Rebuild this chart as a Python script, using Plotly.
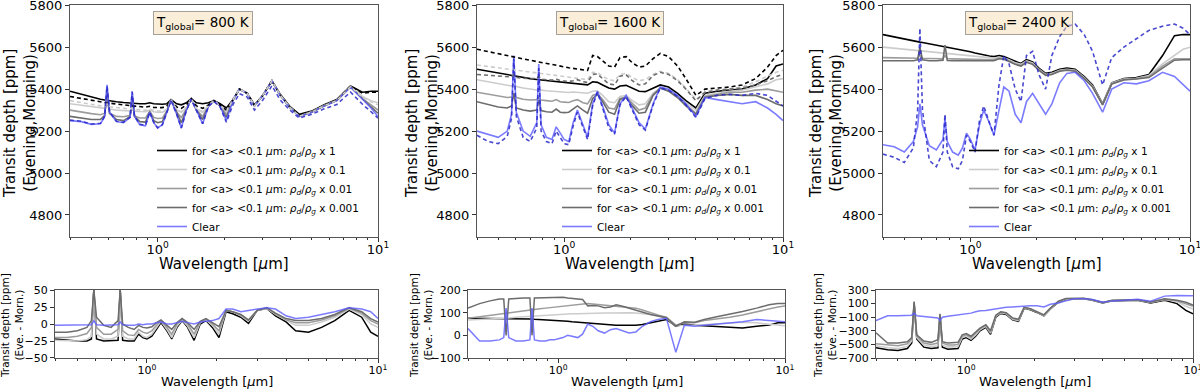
import math
import plotly.graph_objects as go

# wavelength grid (micron) shared by every series
WL = [0.40, 0.45, 0.50, 0.55, 0.575, 0.589, 0.605, 0.65, 0.70, 0.75, 0.766, 0.785, 0.83, 0.88, 0.92, 0.96,
      1.0, 1.05, 1.1, 1.15, 1.22, 1.28, 1.35, 1.42, 1.5, 1.6, 1.7, 1.8, 1.92, 2.05, 2.2, 2.35, 2.55, 2.75,
      3.0, 3.3, 3.6, 4.0, 4.4, 5.0, 5.7, 6.5, 7.5, 8.5, 9.3, 10.0]

# ---- T = 800 K, transit depth [ppm], evening (solid) ----
P1_X1 = [5390,5375,5362,5352,5348,5346,5345,5340,5336,5333,5333,5332,5330,5330,5335,5330,5328,5328,5330,5350,5330,5325,5335,5355,5335,5330,5335,5345,5330,5310,5350,5400,5380,5325,5370,5440,5375,5315,5280,5295,5325,5350,5415,5385,5390,5390]
P1_X01 = [5330,5322,5315,5310,5308,5330,5305,5300,5298,5296,5300,5295,5293,5292,5300,5292,5290,5290,5300,5350,5300,5290,5310,5355,5305,5290,5320,5345,5320,5295,5350,5400,5380,5320,5370,5440,5372,5312,5272,5292,5322,5347,5412,5365,5345,5335]
P1_X001 = [5300,5290,5283,5278,5285,5360,5285,5270,5268,5275,5340,5272,5262,5262,5295,5265,5260,5262,5295,5350,5290,5265,5305,5355,5300,5270,5320,5345,5320,5280,5350,5400,5380,5320,5370,5440,5371,5311,5271,5291,5321,5346,5411,5355,5325,5300]
P1_X0001 = [5270,5262,5255,5255,5275,5400,5285,5255,5250,5270,5370,5270,5245,5243,5292,5250,5240,5245,5292,5350,5285,5240,5302,5355,5300,5255,5320,5345,5320,5265,5350,5400,5380,5320,5370,5440,5370,5310,5270,5290,5320,5345,5410,5352,5315,5285]
P1_CLEAR = [5250,5245,5232,5235,5270,5420,5290,5245,5240,5265,5390,5270,5230,5225,5290,5240,5215,5230,5290,5350,5280,5215,5300,5355,5300,5235,5320,5345,5320,5250,5350,5400,5380,5320,5370,5440,5370,5310,5270,5290,5320,5345,5410,5350,5310,5270]
# morning (dashed)
P1_X1_M = [5365,5355,5345,5338,5335,5334,5333,5328,5324,5320,5320,5319,5316,5314,5318,5313,5312,5312,5318,5348,5315,5308,5325,5355,5320,5308,5325,5345,5325,5300,5350,5400,5380,5322,5370,5440,5372,5312,5275,5292,5322,5348,5415,5380,5385,5385]
P1_X01_M = [5345,5335,5327,5320,5318,5330,5316,5312,5308,5305,5310,5304,5301,5299,5305,5298,5296,5296,5302,5350,5302,5292,5312,5355,5306,5292,5320,5345,5320,5292,5350,5400,5380,5320,5370,5440,5371,5311,5271,5291,5321,5346,5412,5362,5340,5325]
P1_CLEAR_M = [5252,5247,5234,5237,5271,5415,5291,5247,5242,5266,5387,5271,5232,5227,5290,5241,5215,5230,5288,5347,5280,5215,5298,5351,5298,5235,5317,5341,5315,5242,5328,5378,5362,5300,5348,5416,5348,5298,5262,5280,5306,5327,5386,5328,5292,5262]
# evening - morning [ppm]
P1_D_X1 = [-22,-24,-25,-25,-22,50,-22,-25,-25,-24,50,-24,-25,-25,-15,-20,-22,-18,-8,2,-10,-22,-5,5,-5,-24,0,5,-5,-20,18,15,10,1,20,23,12,3,-10,-12,-5,5,20,10,-12,-18]
P1_D_X01 = [-24,-25,-25,-23,-18,45,-15,-22,-22,-18,40,-18,-22,-22,-12,-18,-20,-15,-5,4,-8,-20,-3,6,-3,-20,2,6,-2,-15,20,18,12,4,20,23,14,5,-2,-2,3,10,22,14,0,-5]
P1_D_X001 = [-20,-20,-18,-14,-5,50,-5,-15,-15,-8,50,-10,-16,-17,-8,-12,-14,-10,-2,5,-5,-15,0,7,0,-15,3,7,0,-10,20,18,13,5,20,23,15,6,2,2,6,12,23,16,5,0]
P1_D_X0001 = [-12,-12,-10,-5,5,50,10,-2,-5,5,50,0,-5,-8,-2,-5,-6,-4,2,6,-2,-8,2,8,2,-8,4,8,2,-4,20,18,14,6,20,24,16,8,5,5,8,14,24,18,8,3]
P1_D_CLEAR = [-2,-2,-2,-2,-1,5,-1,-2,-2,-1,3,-1,-2,-2,0,-1,0,0,2,3,0,0,2,4,2,0,3,4,5,8,22,22,18,20,22,24,22,12,8,10,14,18,24,22,18,8]

# ---- T = 1600 K ----
P2_X1 = [5495,5485,5475,5468,5465,5463,5462,5456,5450,5446,5445,5444,5440,5436,5435,5432,5430,5428,5426,5425,5422,5420,5435,5432,5420,5405,5400,5415,5418,5405,5390,5388,5405,5420,5410,5380,5345,5310,5380,5390,5395,5400,5420,5450,5510,5520]
P2_X01 = [5445,5435,5425,5418,5415,5420,5412,5405,5400,5396,5400,5395,5392,5390,5392,5388,5386,5384,5386,5385,5382,5380,5390,5392,5370,5340,5335,5365,5370,5345,5325,5330,5380,5405,5395,5365,5335,5300,5370,5380,5390,5395,5410,5425,5445,5450]
P2_X001 = [5385,5375,5368,5360,5362,5375,5360,5352,5348,5350,5360,5348,5345,5342,5350,5340,5338,5336,5345,5350,5335,5330,5370,5378,5350,5310,5305,5355,5362,5330,5300,5310,5375,5405,5392,5360,5325,5285,5365,5375,5385,5385,5395,5400,5390,5385]
P2_X0001 = [5340,5325,5315,5310,5320,5380,5310,5300,5295,5300,5350,5298,5292,5290,5305,5290,5288,5290,5305,5320,5300,5285,5355,5375,5340,5290,5280,5350,5360,5320,5285,5290,5370,5405,5390,5360,5320,5280,5360,5370,5375,5370,5370,5350,5330,5320]
P2_CLEAR = [5200,5185,5170,5200,5280,5560,5290,5200,5175,5240,5520,5230,5170,5160,5220,5190,5160,5150,5240,5300,5230,5170,5330,5390,5320,5230,5190,5330,5370,5310,5240,5210,5330,5410,5400,5370,5330,5270,5360,5350,5340,5330,5340,5310,5280,5250]
P2_X1_M = [5590,5578,5567,5558,5555,5553,5551,5544,5537,5531,5529,5527,5522,5517,5513,5509,5506,5502,5499,5496,5492,5489,5560,5555,5535,5510,5505,5550,5555,5525,5505,5510,5545,5570,5555,5510,5450,5370,5400,5405,5410,5420,5450,5505,5560,5585]
P2_X01_M = [5515,5508,5500,5494,5492,5490,5489,5484,5480,5476,5475,5474,5470,5466,5464,5461,5458,5455,5452,5450,5447,5445,5480,5478,5462,5445,5440,5470,5475,5455,5440,5445,5470,5485,5475,5445,5405,5350,5385,5395,5400,5410,5435,5460,5480,5490]
P2_X001_M = [5470,5466,5462,5458,5458,5470,5456,5452,5450,5450,5460,5448,5445,5443,5448,5440,5438,5436,5440,5445,5435,5432,5470,5472,5450,5425,5420,5462,5468,5440,5420,5425,5465,5480,5470,5440,5400,5345,5385,5395,5400,5405,5420,5440,5460,5470]
P2_CLEAR_M = [5180,5150,5140,5175,5260,5545,5270,5170,5150,5215,5500,5200,5150,5140,5200,5170,5140,5135,5225,5290,5215,5160,5320,5385,5310,5215,5185,5325,5365,5300,5230,5205,5325,5405,5395,5365,5325,5265,5355,5370,5375,5370,5380,5370,5340,5320]
P2_D_X1 = [75,75,75,75,75,75,75,74,73,72,72,71,70,68,67,66,65,63,62,60,58,56,55,53,50,48,46,45,45,44,45,48,55,62,70,40,50,45,42,40,35,32,40,45,55,55]
P2_D_X01 = [68,70,72,74,75,76,77,80,82,85,86,86,88,90,90,91,92,93,94,95,95,96,96,97,97,98,98,99,100,100,99,97,92,85,75,40,45,45,48,52,55,58,55,50,45,42]
P2_D_X001 = [75,82,90,95,98,100,100,104,108,112,113,114,117,120,122,124,126,128,130,132,135,138,140,138,136,133,130,130,128,125,120,112,100,90,80,45,55,55,65,72,80,90,105,118,125,130]
P2_D_X0001 = [120,140,152,160,160,0,160,163,165,165,0,165,166,167,167,168,170,168,165,163,160,158,130,132,130,122,125,135,128,120,110,100,92,85,78,40,60,58,70,82,92,105,120,135,140,140]
P2_D_CLEAR = [30,-25,-25,-20,-10,120,-10,-25,-25,-20,120,-20,-25,-25,-20,-20,-15,-10,0,-5,-10,5,50,40,20,10,25,30,20,10,15,40,60,70,75,-75,45,40,45,50,55,60,70,65,60,60]

# ---- T = 2400 K ----
P3_X1 = [5660,5648,5638,5630,5626,5624,5622,5616,5610,5604,5602,5600,5596,5590,5586,5582,5578,5572,5567,5563,5558,5555,5560,5555,5545,5530,5522,5540,5530,5500,5475,5480,5495,5500,5495,5460,5420,5330,5430,5450,5455,5470,5560,5655,5660,5660]
P3_X01 = [5600,5595,5590,5586,5584,5584,5582,5578,5575,5572,5572,5570,5568,5565,5563,5561,5560,5557,5555,5553,5550,5548,5552,5548,5540,5525,5518,5535,5525,5495,5470,5475,5490,5495,5490,5455,5415,5328,5428,5448,5452,5465,5520,5560,5590,5600]
P3_X001 = [5550,5549,5548,5547,5547,5560,5547,5546,5545,5545,5560,5545,5544,5543,5543,5542,5542,5541,5541,5540,5540,5540,5548,5545,5535,5520,5512,5530,5520,5492,5468,5472,5488,5492,5487,5452,5412,5326,5426,5446,5450,5460,5510,5545,5545,5545]
P3_X0001 = [5535,5535,5535,5535,5540,5600,5540,5535,5535,5538,5610,5536,5535,5535,5535,5535,5535,5535,5535,5535,5535,5535,5545,5542,5532,5518,5510,5528,5518,5490,5465,5470,5485,5490,5485,5450,5410,5325,5424,5444,5448,5455,5500,5538,5540,5540]
P3_CLEAR = [5135,5125,5100,5150,5220,5330,5230,5130,5110,5160,5260,5150,5100,5085,5120,5190,5160,5110,5230,5300,5240,5180,5300,5410,5390,5280,5240,5340,5380,5330,5280,5330,5430,5475,5480,5440,5380,5290,5400,5430,5425,5440,5480,5460,5420,5390]
P3_CLEAR_M = [5090,5075,5050,5120,5300,5690,5300,5060,5030,5100,5280,5100,5030,5020,5060,5180,5150,5100,5250,5320,5240,5180,5420,5560,5520,5400,5340,5560,5580,5470,5400,5560,5650,5700,5710,5660,5580,5420,5550,5600,5640,5680,5700,5710,5690,5660]
P3_D_X1 = [-550,-580,-590,-560,-480,100,-420,-540,-560,-550,-80,-540,-570,-570,-560,-420,-400,-440,-380,-300,-250,-350,-100,-45,-60,-140,-160,30,10,-30,-80,20,120,160,170,170,150,110,140,150,150,110,150,100,0,-50]
P3_D_X01 = [-520,-550,-560,-530,-450,110,-400,-510,-530,-520,-70,-510,-540,-540,-530,-400,-380,-420,-360,-285,-235,-335,-90,-35,-50,-130,-150,35,15,-25,-75,25,125,165,172,172,152,112,142,152,152,115,160,130,60,20]
P3_D_X001 = [-490,-510,-520,-490,-420,120,-380,-480,-500,-480,-60,-480,-510,-510,-500,-380,-360,-400,-340,-270,-220,-320,-80,-25,-40,-120,-140,40,20,-20,-70,30,130,170,175,175,155,115,145,155,155,120,165,140,100,60]
P3_D_X0001 = [-330,-480,-480,-460,-400,130,-360,-450,-470,-430,-50,-460,-480,-480,-470,-360,-340,-380,-320,-260,-210,-300,-70,-20,-35,-110,-130,45,25,-15,-65,35,135,175,180,178,158,118,148,158,158,125,170,150,120,80]
P3_D_CLEAR = [-150,-80,-80,-75,-70,-40,-80,-90,-100,-110,-150,-100,-85,-75,-65,-55,-50,-40,-20,-5,0,10,30,40,45,50,60,65,70,70,50,90,110,140,170,170,160,120,140,150,165,135,210,220,215,215]

TEMPS = ["800", "1600", "2400"]
RHO = "for &lt;a&gt; &lt;0.1 <i>μ</i>m: <i>ρ<sub>d</sub></i>/<i>ρ<sub>g</sub></i> x "
NAMES = [RHO + "1", RHO + "0.1", RHO + "0.01", RHO + "0.001", "Clear"]
COLORS = ["#000000", "#cccccc", "#9c9c9c", "#6c6c6c", "rgba(90,90,255,0.8)"]
DASH_BLUE = "rgba(40,40,200,0.85)"

FONT = "DejaVu Sans"
W, H = 1200, 389
TOP_X = [(70, 378), (477, 783), (883, 1190)]
BOT_X = [(55, 378), (468, 785), (876, 1193)]
TOP_Y = (5, 237)
BOT_Y = (290, 358)
YT_TOP = [20, 422, 826]
YT_BOT = [12, 421, 825]

panels = [
    dict(eve=[P1_X1, P1_X01, P1_X001, P1_X0001, P1_CLEAR],
         morn=[(P1_X1_M, 0), (P1_X01_M, 1), (P1_CLEAR_M, 4)],
         diff=[P1_D_X1, P1_D_X01, P1_D_X001, P1_D_X0001, P1_D_CLEAR],
         drange=[-50, 50], dticks=[-50, -25, 0, 25, 50]),
    dict(eve=[P2_X1, P2_X01, P2_X001, P2_X0001, P2_CLEAR],
         morn=[(P2_X1_M, 0), (P2_X01_M, 1), (P2_X001_M, 3), (P2_CLEAR_M, 4)],
         diff=[P2_D_X1, P2_D_X01, P2_D_X001, P2_D_X0001, P2_D_CLEAR],
         drange=[-100, 200], dticks=[-100, 0, 100, 200]),
    dict(eve=[P3_X1, P3_X01, P3_X001, P3_X0001, P3_CLEAR],
         morn=[(P3_CLEAR_M, 4)],
         diff=[P3_D_X1, P3_D_X01, P3_D_X001, P3_D_X0001, P3_D_CLEAR],
         drange=[-700, 300], dticks=[-700, -500, -300, -100, 100, 300]),
]

fig = go.Figure()
minor_vals = [0.4, 0.5, 0.6, 0.7, 0.8, 0.9, 2, 3, 4, 5, 6, 7, 8, 9]
xr = [math.log10(0.4), 1]


def xaxis_style(domain, anchor, tick_size, standoff):
    return dict(type="log", range=xr, domain=domain, anchor=anchor,
                tickvals=[1, 10], ticktext=["10<sup>0</sup>", "10<sup>1</sup>"],
                ticks="outside", ticklen=4, tickcolor="#333", ticklabelstandoff=standoff,
                ticklabeloverflow="allow",
                minor=dict(tickvals=minor_vals, ticks="outside", ticklen=2, tickcolor="#333"),
                showline=True, linecolor="#555", linewidth=1, mirror=True, automargin=False,
                showgrid=False, zeroline=False, tickfont=dict(size=tick_size, color="black"))


def yaxis_style(domain, anchor, rng, vals, tick_size):
    return dict(range=rng, domain=domain, anchor=anchor, tickvals=vals,
                ticks="outside", ticklen=4, tickcolor="#333", automargin=False,
                ticklabeloverflow="allow",
                showline=True, linecolor="#555", linewidth=1, mirror=True,
                showgrid=False, zeroline=False, tickfont=dict(size=tick_size, color="black"))


def note(text, px, py, size, angle=0, **kw):
    return dict(text=text, xref="paper", yref="paper", x=px / W, y=1 - py / H,
                xanchor="center", yanchor="middle", showarrow=False, textangle=angle,
                font=dict(size=size, family=FONT, color="black"), **kw)


layout = dict(width=W, height=H, margin=dict(l=0, r=0, t=0, b=0, autoexpand=False),
              paper_bgcolor="white", plot_bgcolor="white",
              font=dict(family=FONT, color="black"), annotations=[])

for i, p in enumerate(panels):
    tx, ty = "x" + ("" if i == 0 else str(i + 1)), "y" + ("" if i == 0 else str(i + 1))
    bx, by = "x" + str(i + 4), "y" + str(i + 4)
    leg = "legend" + ("" if i == 0 else str(i + 1))

    for k, ys in enumerate(p["eve"]):
        fig.add_trace(go.Scatter(x=WL, y=ys, xaxis=tx, yaxis=ty, mode="lines", name=NAMES[k],
                                 line=dict(color=COLORS[k], width=1.6), legend=leg))
    for ys, k in p["morn"]:
        col = DASH_BLUE if k == 4 else COLORS[k]
        fig.add_trace(go.Scatter(x=WL, y=ys, xaxis=tx, yaxis=ty, mode="lines", showlegend=False,
                                 line=dict(color=col, width=1.6, dash="4px,3px")))
    for k, ys in enumerate(p["diff"]):
        fig.add_trace(go.Scatter(x=WL, y=ys, xaxis=bx, yaxis=by, mode="lines", showlegend=False,
                                 line=dict(color=COLORS[k], width=1.5)))

    x0, x1 = TOP_X[i]
    b0, b1 = BOT_X[i]
    layout["xaxis" + tx[1:]] = xaxis_style([x0 / W, x1 / W], ty, 13, -4)
    layout["yaxis" + ty[1:]] = yaxis_style([1 - TOP_Y[1] / H, 1 - TOP_Y[0] / H], tx,
                                           [4695, 5801], [4800, 5000, 5200, 5400, 5600, 5800], 13)
    layout["xaxis" + bx[1:]] = xaxis_style([b0 / W, b1 / W], by, 11, -2)
    layout["yaxis" + by[1:]] = yaxis_style([1 - BOT_Y[1] / H, 1 - BOT_Y[0] / H], bx,
                                           [p["drange"][0] - 0.01, p["drange"][1] + 0.01],
                                           p["dticks"], 11)

    layout[leg] = dict(x=(x1 - 226) / W, y=1 - 136 / H, xanchor="left", yanchor="top",
                       bgcolor="rgba(0,0,0,0)", font=dict(size=10.5, family=FONT),
                       tracegroupgap=0)

    # panel label box
    layout["annotations"].append(note("T<sub>global</sub>= " + TEMPS[i] + " K",
                                      x0 + 133 + (i == 2) * 3, 23, 13.5,
                                      bgcolor="rgba(245,222,179,0.5)",
                                      bordercolor="rgba(0,0,0,0.35)", borderwidth=1, borderpad=2))
    # axis titles
    layout["annotations"].append(note("Wavelength [<i>μ</i>m]", (x0 + x1) / 2, 264, 15))
    layout["annotations"].append(note("Wavelength [<i>μ</i>m]", (b0 + b1) / 2, 381, 13))
    layout["annotations"].append(note("Transit depth [ppm]<br>(Evening,Morning)", YT_TOP[i], 124, 15, -90))
    layout["annotations"].append(note("Transit depth [ppm]<br>(Eve. - Morn.)", YT_BOT[i], 326, 10.5, -90))

fig.update_layout(**layout)
# the page body has a default 8px margin; drop it so the figure sits at the window corner
fig.write_html("out.html", config={"displayModeBar": False},
               post_script="document.body.style.margin='0px';")
